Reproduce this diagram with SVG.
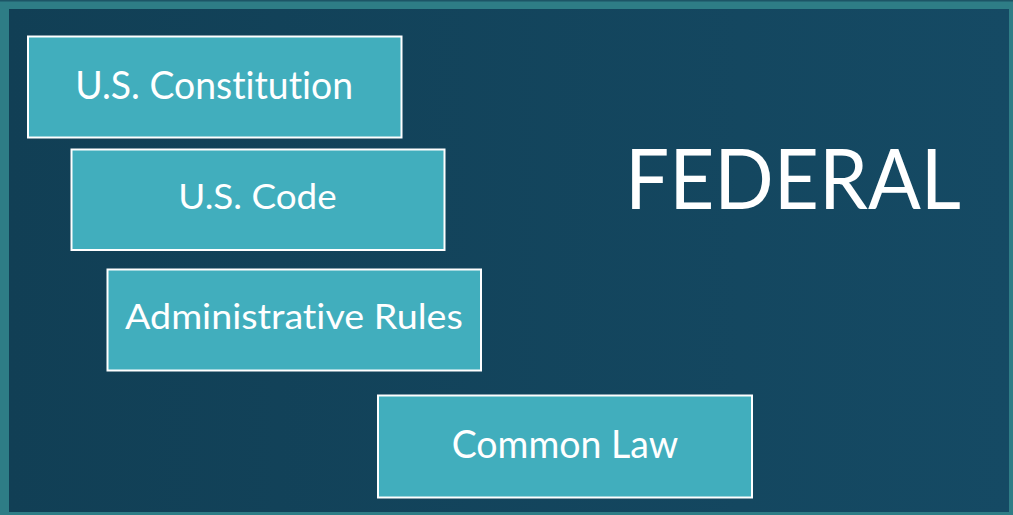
<svg xmlns="http://www.w3.org/2000/svg" width="1013" height="515" viewBox="0 0 1013 515">
<style>
.box{fill:#41aebd;stroke:#ffffff;stroke-width:2}
.lbl{font-family:Lato,"Open Sans","Liberation Sans",sans-serif;fill:#ffffff;font-variant-ligatures:none;font-feature-settings:"liga" 0,"clig" 0}
</style>
<defs>
<linearGradient id="bg" x1="0" y1="0" x2="1" y2="0">
<stop offset="0" stop-color="#113f55"/>
<stop offset="1" stop-color="#154a64"/>
</linearGradient>
</defs>
<rect x="0" y="0" width="1013" height="515" fill="#2e7d86"/>
<rect x="0" y="0" width="1013" height="1.5" fill="#1d5566"/>
<rect x="9" y="9" width="1000" height="503" fill="url(#bg)"/>
<g id="node-constitution">
<rect class="box" x="28" y="36.5" width="373.5" height="101"/>
<text class="lbl" x="75.3" y="99.3" font-size="38.5" textLength="277.7" lengthAdjust="spacingAndGlyphs">U.S. Constitution</text>
</g>
<g id="node-code">
<rect class="box" x="71.5" y="149.5" width="373" height="100.5"/>
<text class="lbl" x="178.3" y="209" font-size="35" textLength="158.4" lengthAdjust="spacingAndGlyphs">U.S. Code</text>
</g>
<g id="node-admin">
<rect class="box" x="107.5" y="269.5" width="373.5" height="101"/>
<text class="lbl" x="125" y="329" font-size="35" textLength="337.7" lengthAdjust="spacingAndGlyphs">Administrative Rules</text>
</g>
<g id="node-common">
<rect class="box" x="378" y="395.5" width="374" height="102"/>
<text class="lbl" x="451.7" y="458.3" font-size="38.5" textLength="226.6" lengthAdjust="spacingAndGlyphs">Common Law</text>
</g>
<g id="title">
<text class="lbl" x="625" y="209.3" font-size="84" textLength="336" lengthAdjust="spacingAndGlyphs">FEDERAL</text>
</g>
<g id="connectors"/>
</svg>
